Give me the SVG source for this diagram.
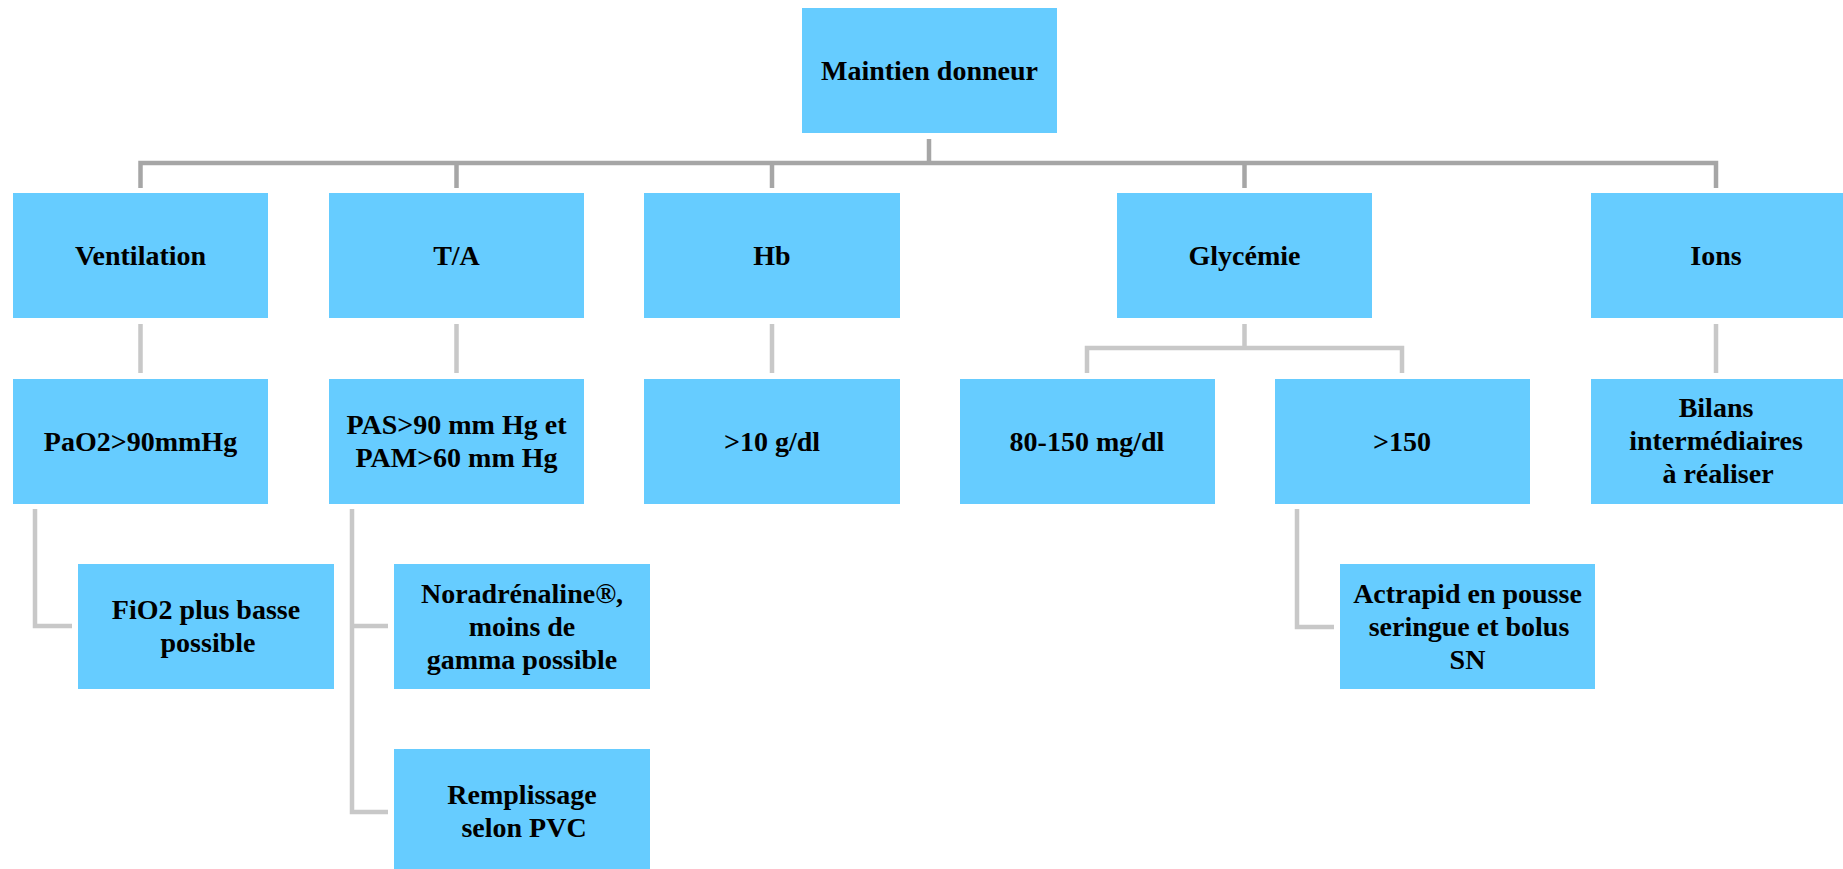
<svg xmlns="http://www.w3.org/2000/svg" width="1843" height="869" viewBox="0 0 1843 869">
<style>
.box{fill:#66CCFF;}
.t{font-family:"Liberation Serif","Times New Roman",serif;font-weight:bold;font-size:28px;fill:#000;text-anchor:middle;}
.bus{fill:none;stroke:#A6A6A6;stroke-width:4.5;stroke-linejoin:miter;}
.ln{fill:none;stroke:#C8C8C8;stroke-width:4.5;stroke-linejoin:miter;}
</style>
<rect width="1843" height="869" fill="#fff"/>
<g id="connectors">
<path class="bus" d="M929,139 V163 M140.5,188 V163 H1716 V188 M456.5,163 V188 M772,163 V188 M1244.5,163 V188"/>
<path class="ln" d="M140.5,324 V373 M456.5,324 V373 M772,324 V373 M1716,324 V373"/>
<path class="ln" d="M1244.5,324 V348 M1087,373 V348 H1402 V373"/>
<path class="ln" d="M35,509 V626 H72"/>
<path class="ln" d="M388,626 H352 M352,509 V812 H388"/>
<path class="ln" d="M1297,509 V627 H1334"/>
</g>
<g id="n_maintien"><rect class="box" x="802" y="8" width="255" height="125"/><text class="t" x="929.5" y="80">Maintien donneur</text></g>
<g id="n_ventilation"><rect class="box" x="13" y="193" width="255" height="125"/><text class="t" x="140.5" y="265">Ventilation</text></g>
<g id="n_ta"><rect class="box" x="329" y="193" width="255" height="125"/><text class="t" x="456.5" y="265">T/A</text></g>
<g id="n_hb"><rect class="box" x="644" y="193" width="256" height="125"/><text class="t" x="772" y="265">Hb</text></g>
<g id="n_glycemie"><rect class="box" x="1117" y="193" width="255" height="125"/><text class="t" x="1244.5" y="265">Glycémie</text></g>
<g id="n_ions"><rect class="box" x="1591" y="193" width="255" height="125"/><text class="t" x="1716" y="265">Ions</text></g>
<g id="n_pao2"><rect class="box" x="13" y="379" width="255" height="125"/><text class="t" x="140.5" y="451">PaO2&gt;90mmHg</text></g>
<g id="n_pas"><rect class="box" x="329" y="379" width="255" height="125"/><text class="t" x="456.5" y="434">PAS&gt;90 mm Hg et</text><text class="t" x="456.5" y="467">PAM&gt;60 mm Hg</text></g>
<g id="n_hb10"><rect class="box" x="644" y="379" width="256" height="125"/><text class="t" x="772" y="451">&gt;10 g/dl</text></g>
<g id="n_80150"><rect class="box" x="960" y="379" width="255" height="125"/><text class="t" x="1087" y="451">80-150 mg/dl</text></g>
<g id="n_150"><rect class="box" x="1275" y="379" width="255" height="125"/><text class="t" x="1402" y="451">&gt;150</text></g>
<g id="n_bilans"><rect class="box" x="1591" y="379" width="255" height="125"/><text class="t" x="1716" y="417">Bilans</text><text class="t" x="1716" y="450">intermédiaires</text><text class="t" x="1718" y="483">à réaliser</text></g>
<g id="n_fio2"><rect class="box" x="78" y="564" width="256" height="125"/><text class="t" x="206" y="619">FiO2 plus basse</text><text class="t" x="208" y="652">possible</text></g>
<g id="n_nora"><rect class="box" x="394" y="564" width="256" height="125"/><text class="t" x="522" y="603">Noradrénaline®,</text><text class="t" x="522" y="636">moins de</text><text class="t" x="522" y="669">gamma possible</text></g>
<g id="n_rempl"><rect class="box" x="394" y="749" width="256" height="125"/><text class="t" x="522" y="804">Remplissage</text><text class="t" x="524" y="837">selon PVC</text></g>
<g id="n_actrapid"><rect class="box" x="1340" y="564" width="255" height="125"/><text class="t" x="1467.5" y="603">Actrapid en pousse</text><text class="t" x="1469" y="636">seringue et bolus</text><text class="t" x="1467.5" y="669">SN</text></g>
</svg>
